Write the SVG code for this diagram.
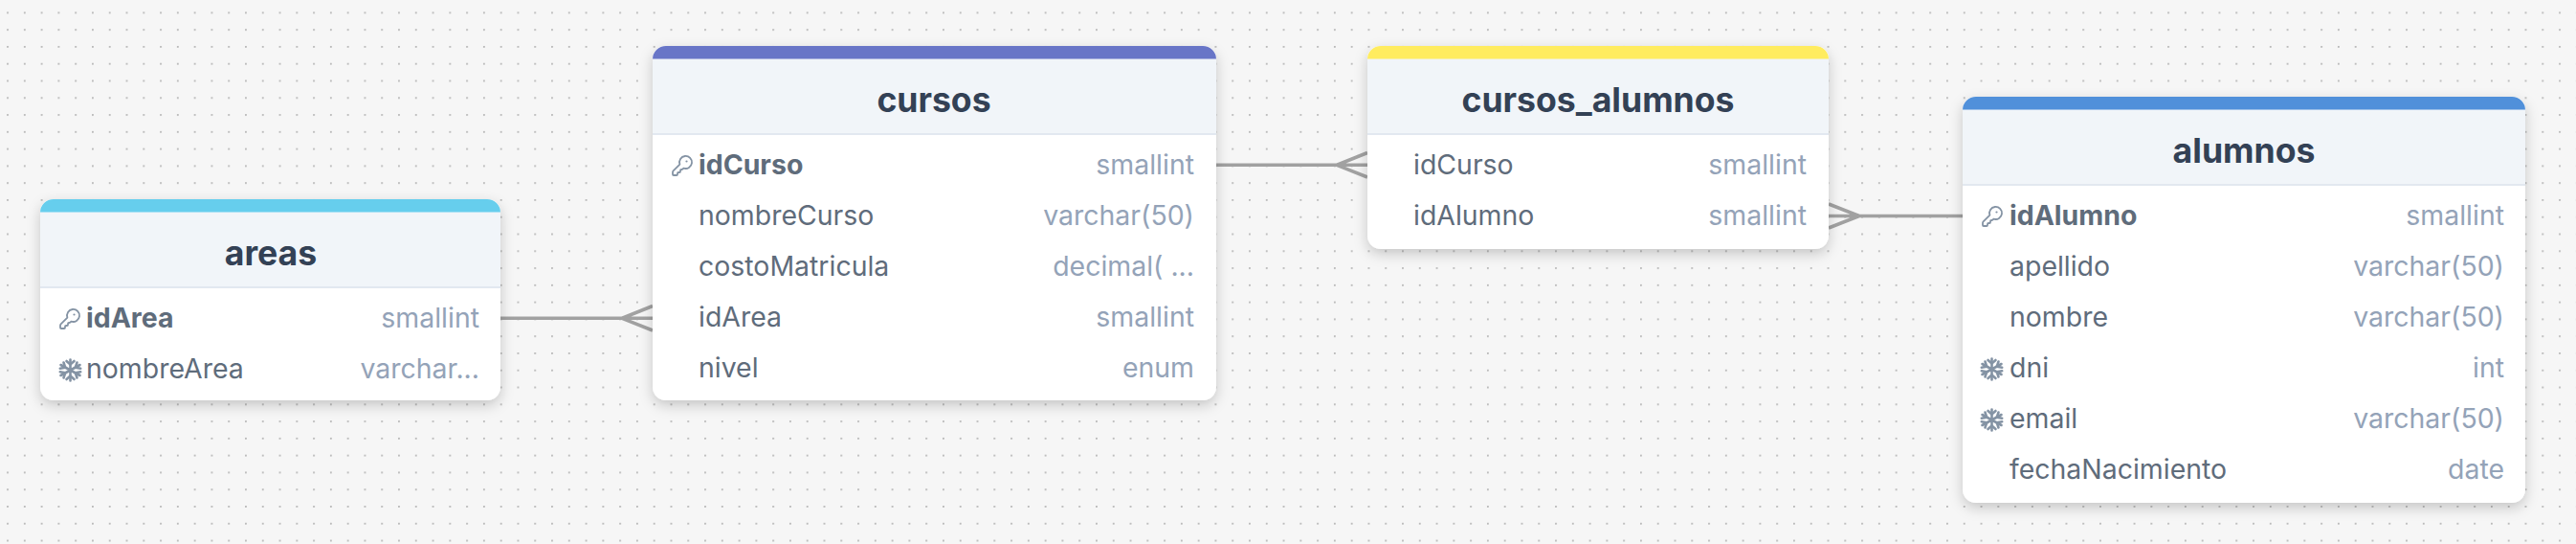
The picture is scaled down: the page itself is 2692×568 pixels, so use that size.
<svg xmlns="http://www.w3.org/2000/svg" width="2692" height="568" viewBox="0 0 2692 568">
<defs>
<pattern id="dots" x="7.1" y="12.4" width="17.78" height="17.78" patternUnits="userSpaceOnUse"><circle cx="0.9" cy="0.9" r="1" fill="#b4b4b4"/></pattern>
<filter id="sh" x="-10%" y="-10%" width="120%" height="125%"><feDropShadow dx="0" dy="5" stdDeviation="7" flood-color="#000" flood-opacity="0.2"/></filter>
<g id="key"><path fill="none" stroke="#8493a4" stroke-width="1.8" stroke-linecap="round" stroke-linejoin="round" d="M2.586 17.414A2 2 0 0 0 2 18.828V21a1 1 0 0 0 1 1h3a1 1 0 0 0 1-1v-1a1 1 0 0 1 1-1h1a1 1 0 0 0 1-1v-1a1 1 0 0 1 1-1h.172a2 2 0 0 0 1.414-.586l.814-.814a6.500 6.500 0 1 0-4-4z"/><circle cx="16.500" cy="7.500" r="1.100" fill="#8493a4"/></g>
<g id="snow"><g fill="none" stroke="#8493a4" stroke-width="2.600" stroke-linecap="round"><path d="M11.500 0.500v22M1.500 6l20 11M1.500 17l20-11"/><path d="M7.500 2l4 3.600 4-3.600M7.500 21l4-3.600 4 3.600M0.800 9.800l5.400-1.100-1.700-5.200M22.200 9.800l-5.400-1.100 1.700-5.200M0.800 13.200l5.400 1.100-1.700 5.200M22.200 13.200l-5.400 1.100 1.700 5.200"/></g></g>
</defs>
<style>
text{font-family:Inter,"Liberation Sans",sans-serif}
.t{font-size:35.6px;font-weight:700;fill:#334155;text-anchor:middle}
.f{font-size:28.450px;fill:#5f6c7b}
.p{font-weight:700}
.d{font-size:28.450px;fill:#94a3b8;text-anchor:end}
.h{fill:#f1f5f9}
.l{stroke:#e2e8f0;stroke-width:2}
.c{fill:none;stroke:#a1a1a1;stroke-width:3.6}
.card{fill:#fff;filter:url(#sh)}
</style>
<rect width="2692" height="568" fill="#f6f6f6"/>
<rect width="2692" height="568" fill="url(#dots)"/>
<g id="connectors">
<path class="c" d="M523 332.300H682M682 319.500L650 332.300L682 345"/>
<path class="c" d="M1270 172.300H1429M1429 159.500L1397 172.300L1429 185"/>
<path class="c" d="M2051 225.500H1911M1911 213L1943 225.500L1911 238"/>
</g>
<g id="areas">
<rect class="card" x="42" y="208" width="481" height="210" rx="14"/>
<path class="h" d="M42 221H523V300H42z"/>
<path fill="#66ceed" d="M42 221.500V222a14 14 0 0 1 14-14H509a14 14 0 0 1 14 14V221.500z"/>
<path class="l" d="M42 300H523"/>
<text class="t" x="283" y="277">areas</text>
<use href="#key" x="61" y="321"/><text class="f p" x="90" y="342">idArea</text><text class="d" x="501" y="342">smallint</text>
<use href="#snow" x="62" y="375"/><text class="f" x="90" y="395">nombreArea</text><text class="d" x="501" y="395">varchar...</text>
</g>
<g id="cursos">
<rect class="card" x="682" y="48" width="589" height="370" rx="14"/>
<path class="h" d="M682 61H1271V140H682z"/>
<path fill="#6875c7" d="M682 61.500V62a14 14 0 0 1 14-14H1257a14 14 0 0 1 14 14V61.500z"/>
<path class="l" d="M682 140H1271"/>
<text class="t" x="976" y="117">cursos</text>
<use href="#key" x="701" y="161"/><text class="f p" x="730" y="182">idCurso</text><text class="d" x="1248" y="182">smallint</text>
<text class="f" x="730" y="235">nombreCurso</text><text class="d" x="1248" y="235">varchar(50)</text>
<text class="f" x="730" y="288">costoMatricula</text><text class="d" x="1248" y="288">decimal( ...</text>
<text class="f" x="730" y="341">idArea</text><text class="d" x="1248" y="341">smallint</text>
<text class="f" x="730" y="394">nivel</text><text class="d" x="1248" y="394">enum</text>
</g>
<g id="cursos_alumnos">
<rect class="card" x="1429" y="48" width="482" height="212" rx="14"/>
<path class="h" d="M1429 61H1911V140H1429z"/>
<path fill="#ffec5f" d="M1429 61.500V62a14 14 0 0 1 14-14H1897a14 14 0 0 1 14 14V61.500z"/>
<path class="l" d="M1429 140H1911"/>
<text class="t" x="1670" y="117">cursos_alumnos</text>
<text class="f" x="1477" y="182">idCurso</text><text class="d" x="1888" y="182">smallint</text>
<text class="f" x="1477" y="235">idAlumno</text><text class="d" x="1888" y="235">smallint</text>
</g>
<g id="alumnos">
<rect class="card" x="2051" y="101" width="588" height="424" rx="14"/>
<path class="h" d="M2051 114H2639V193H2051z"/>
<path fill="#5090da" d="M2051 114.500V115a14 14 0 0 1 14-14H2625a14 14 0 0 1 14 14V114.500z"/>
<path class="l" d="M2051 193H2639"/>
<text class="t" x="2345" y="170">alumnos</text>
<use href="#key" x="2070" y="214"/><text class="f p" x="2100" y="235">idAlumno</text><text class="d" x="2617" y="235">smallint</text>
<text class="f" x="2100" y="288">apellido</text><text class="d" x="2617" y="288">varchar(50)</text>
<text class="f" x="2100" y="341">nombre</text><text class="d" x="2617" y="341">varchar(50)</text>
<use href="#snow" x="2070" y="374"/><text class="f" x="2100" y="394">dni</text><text class="d" x="2617" y="394">int</text>
<use href="#snow" x="2070" y="427"/><text class="f" x="2100" y="447">email</text><text class="d" x="2617" y="447">varchar(50)</text>
<text class="f" x="2100" y="500">fechaNacimiento</text><text class="d" x="2617" y="500">date</text>
</g>
</svg>
